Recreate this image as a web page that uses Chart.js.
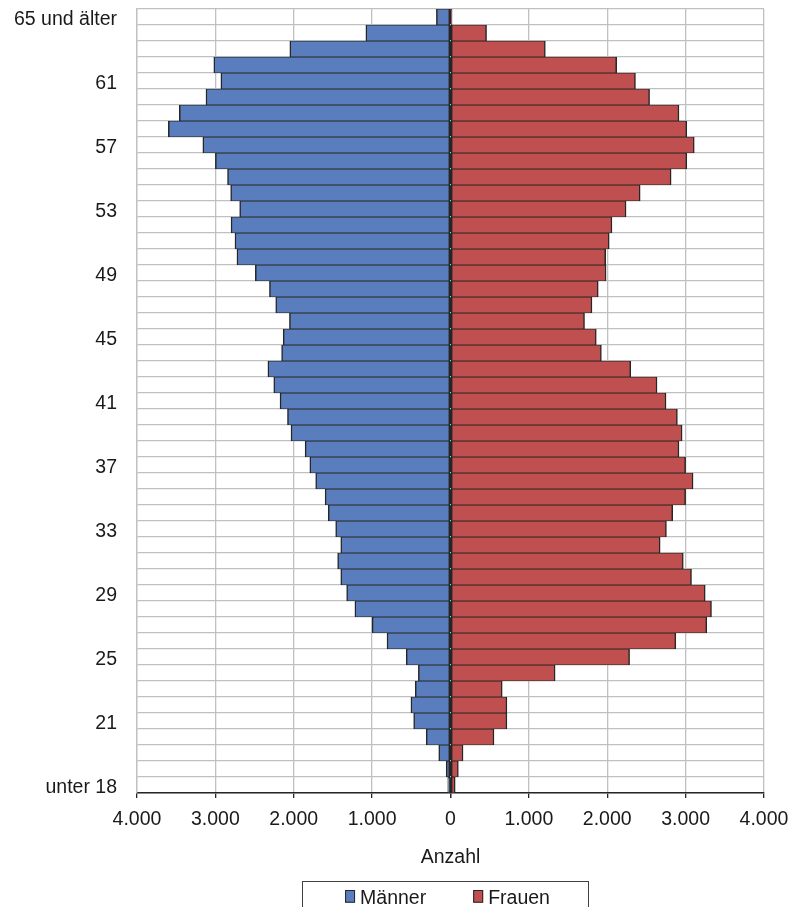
<!DOCTYPE html>
<html lang="de">
<head>
<meta charset="utf-8">
<title>Altersstruktur</title>
<script src="https://cdn.jsdelivr.net/npm/chart.js@4/dist/chart.umd.min.js"></script>
<style>
  html, body { margin: 0; padding: 0; background: #fff; }
  #chart { display: block; }
</style>
</head>
<body>
<canvas id="chart" width="792" height="907"></canvas>
<script>
// Altersgruppen von unten nach oben
const ageLabels = ["unter 18", "18", "19", "20", "21", "22", "23", "24", "25", "26", "27", "28", "29",
    "30", "31", "32", "33", "34", "35", "36", "37", "38", "39", "40", "41", "42", "43", "44", "45",
    "46", "47", "48", "49", "50", "51", "52", "53", "54", "55", "56", "57", "58", "59", "60", "61",
    "62", "63", "64", "65 und älter"];

// nur diese Beschriftungen stehen an der Achse
const shownAgeLabels = ["unter 18", "21", "25", "29", "33", "37", "41", "45", "49", "53", "57", "61", "65 und älter"];

const maenner = [35, 55, 150, 310, 470, 505, 450, 410, 565, 810, 1000, 1220, 1325,
    1400, 1440, 1400, 1465, 1560, 1600, 1720, 1795, 1855, 2035, 2080, 2175, 2255, 2330, 2155, 2135,
    2055, 2230, 2310, 2490, 2725, 2750, 2800, 2690, 2805, 2845, 3000, 3160, 3600, 3460, 3120, 2930,
    3020, 2050, 1080, 180];

const frauen = [60, 100, 160, 555, 720, 720, 660, 1335, 2285, 2875, 3270, 3330, 3250,
    3075, 2970, 2675, 2755, 2835, 3000, 3095, 3000, 2915, 2955, 2895, 2750, 2635, 2300, 1925, 1860,
    1710, 1805, 1885, 1985, 1980, 2025, 2060, 2240, 2420, 2815, 3015, 3110, 3015, 2915, 2540, 2360,
    2120, 1210, 460, 20];

const xMin = -4000;
const xMax = 4000;
const xStep = 1000;

const FONT = '"Liberation Sans", Arial, sans-serif';
const TEXT = "#1a1a1a";

function formatDe(v) {
    return String(Math.abs(v)).replace(/\B(?=(\d{3})+(?!\d))/g, ".");
}

// Legende im Excel-Stil mit Rahmen
const legendBox = {
    id: "legendBox",
    afterDraw(chart) {
        const { ctx, chartArea, height } = chart;
        ctx.save();
        ctx.font = "19.5px " + FONT;
        const items = chart.data.datasets.map(ds => ({
            text: ds.label,
            color: ds.backgroundColor,
            w: ctx.measureText(ds.label).width
        }));
        const sw = 10, gap = 5, between = 47;
        const total = items.reduce((s, it) => s + sw + gap + it.w, 0) + between * (items.length - 1);
        const cx = (chartArea.left + chartArea.right) / 2 - 3;
        let x = cx - total / 2;
        const boxTop = height - 26.3;

        ctx.strokeStyle = "#404040";
        ctx.lineWidth = 1;
        ctx.strokeRect(Math.round(x - 43) + 0.5, Math.round(boxTop) + 0.5, Math.round(total + 81), 40);

        ctx.textBaseline = "alphabetic";
        ctx.textAlign = "left";
        items.forEach(it => {
            ctx.fillStyle = it.color;
            ctx.fillRect(x, height - 17, sw, 12.7);
            ctx.strokeStyle = "#262626";
            ctx.strokeRect(x + 0.5, height - 16.5, sw - 1, 11.7);
            x += sw + gap;
            ctx.fillStyle = TEXT;
            ctx.fillText(it.text, x, height - 3);
            x += it.w + between;
        });
        ctx.restore();
    }
};

new Chart(document.getElementById("chart"), {
    type: "bar",
    data: {
        labels: ageLabels,
        datasets: [
            {
                label: "Männer",
                data: maenner.map(v => -v),
                backgroundColor: "#5a7ebd",
                borderColor: "#262626",
                borderWidth: { top: 0.9, bottom: 0.9, left: 1.5, right: 1.5 },
                borderSkipped: false,
                barPercentage: 1,
                categoryPercentage: 1
            },
            {
                label: "Frauen",
                data: frauen,
                backgroundColor: "#c0504f",
                borderColor: "#262626",
                borderWidth: { top: 0.9, bottom: 0.9, left: 1.5, right: 1.5 },
                borderSkipped: false,
                barPercentage: 1,
                categoryPercentage: 1
            }
        ]
    },
    options: {
        indexAxis: "y",
        responsive: false,
        animation: false,
        layout: { padding: { top: 9, right: 28, bottom: 37.3, left: 0 } },
        plugins: {
            legend: { display: false },
            tooltip: { enabled: false }
        },
        scales: {
            x: {
                stacked: true,
                min: xMin,
                max: xMax,
                ticks: {
                    stepSize: xStep,
                    padding: 10,
                    color: TEXT,
                    font: { family: FONT, size: 19.5 },
                    callback: v => formatDe(v)
                },
                grid: {
                    color: c => (c.tick && c.tick.value === 0 ? "#262626" : "#c0c0c0"),
                    lineWidth: c => (c.tick && c.tick.value === 0 ? 1.5 : 1.3),
                    tickColor: "#262626",
                    tickLength: 5
                },
                border: { color: "#262626", width: 1.6 },
                title: {
                    display: true,
                    text: "Anzahl",
                    color: TEXT,
                    font: { family: FONT, size: 19.5 },
                    padding: { top: 0, bottom: 0 }
                },
                afterFit: scale => {
                    scale.height = 76.7;
                    scale.paddingLeft = 0;
                    scale.paddingRight = 0;
                }
            },
            y: {
                stacked: true,
                reverse: true,
                ticks: {
                    autoSkip: false,
                    padding: 20,
                    labelOffset: 3,
                    color: TEXT,
                    font: { family: FONT, size: 19.5 },
                    callback: function (v) {
                        const lbl = this.getLabelForValue(v);
                        return shownAgeLabels.includes(lbl) ? lbl : "";
                    }
                },
                grid: {
                    color: "#c0c0c0",
                    lineWidth: 1.3,
                    drawTicks: false
                },
                border: { color: "#c0c0c0", width: 1.3 },
                afterFit: scale => {
                    scale.width = 137;
                    scale.paddingTop = 0;
                    scale.paddingBottom = 0;
                }
            }
        }
    },
    plugins: [legendBox]
});
</script>
</body>
</html>
